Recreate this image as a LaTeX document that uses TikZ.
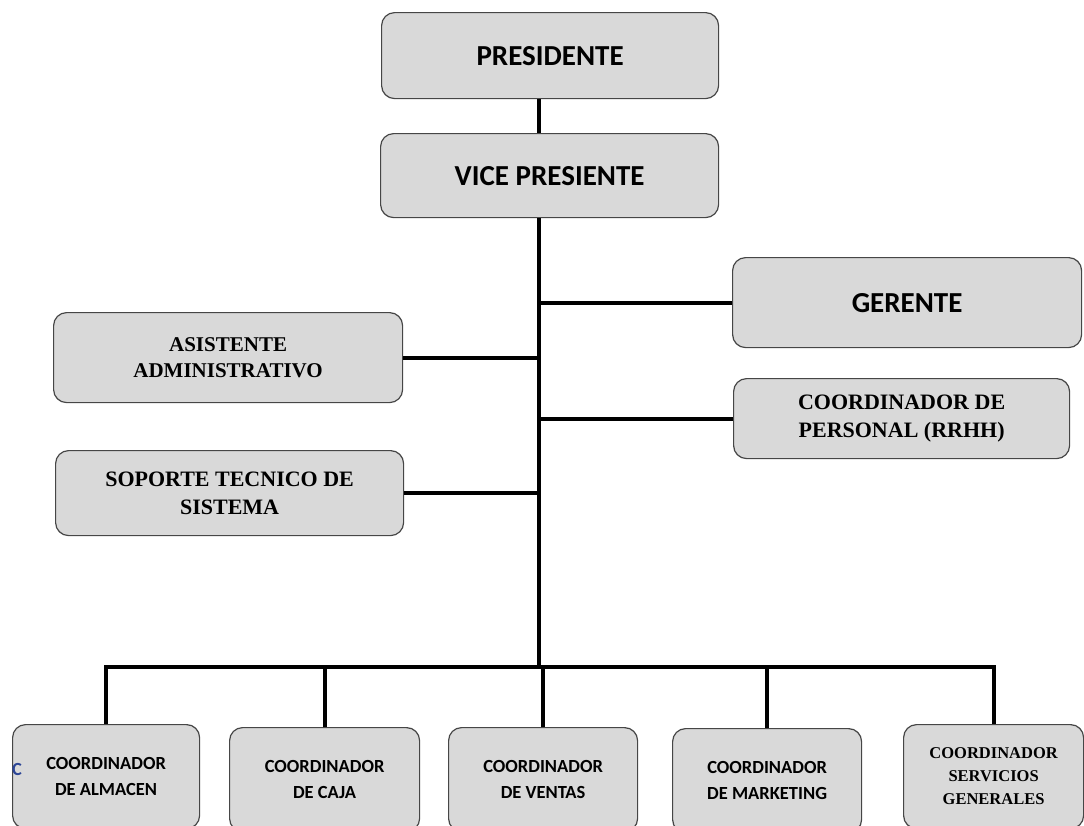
\documentclass[tikz,border=0pt]{standalone}
\usepackage{fontspec}
\setmainfont{Liberation Serif}
\newfontfamily\calibri{Carlito}
\usetikzlibrary{positioning}
\definecolor{boxgray}{RGB}{217,217,217}
\definecolor{boxedge}{RGB}{70,70,70}
\definecolor{strayblue}{RGB}{45,70,150}
\tikzset{
	org/.style={draw=boxedge, fill=boxgray, line width=1.2pt, rounded corners=13pt,
		anchor=north west, align=center, inner sep=0pt},
	headtext/.style={font=\calibri\bfseries\fontsize{29}{33}\selectfont},
	serftext/.style={font=\bfseries\fontsize{22}{28}\selectfont},
	smallserf/.style={font=\bfseries\fontsize{16.5}{23}\selectfont},
	coordtext/.style={font=\calibri\bfseries\fontsize{18.5}{26}\selectfont},
	link/.style={line width=4pt}
}

\begin{document}
\begin{tikzpicture}[x=1pt,y=-1pt]
  \clip (0,0) rectangle (1084,825);
  % direction
  \node [org, headtext, minimum width=337pt, minimum height=86pt] (pres) at (381,12) {PRESIDENTE};
  \node [org, headtext, minimum width=338pt, minimum height=84pt] (vice) at (380,133) {VICE PRESIENTE};
  % staff on both sides
  \node [org, headtext, minimum width=349pt, minimum height=90pt] (gerente) at (732,257) {GERENTE};
  \node [org, serftext, minimum width=336pt, minimum height=80pt] (rrhh) at (733,378) {COORDINADOR DE\\PERSONAL (RRHH)};
  \node [org, serftext, font=\bfseries\fontsize{21}{26}\selectfont, minimum width=349pt, minimum height=90pt] (asist) at (53,312) {ASISTENTE\\ADMINISTRATIVO};
  \node [org, serftext, minimum width=348pt, minimum height=85pt] (soporte) at (55,450) {SOPORTE TECNICO DE\\SISTEMA};
  % coordinators
  \node [org, coordtext, minimum width=187pt, minimum height=104pt] (almacen) at (12,724) {COORDINADOR\\DE ALMACEN};
  \node [org, coordtext, minimum width=190pt, minimum height=104pt] (caja) at (229,727) {COORDINADOR\\DE CAJA};
  \node [org, coordtext, minimum width=189pt, minimum height=104pt] (ventas) at (448,727) {COORDINADOR\\DE VENTAS};
  \node [org, coordtext, minimum width=189pt, minimum height=104pt] (marketing) at (672,728) {COORDINADOR\\DE MARKETING};
  \node [org, smallserf, minimum width=180pt, minimum height=104pt] (servicios) at (903,724) {COORDINADOR\\SERVICIOS\\GENERALES};
  \node [coordtext, text=strayblue, inner sep=0pt] (strayc) at (17,769) {C};
  % lines
  \coordinate (bus) at (539,667);
  \draw [link] (pres.south -| bus) -- (vice.north -| bus);
  \draw [link] (vice.south -| bus) -- (bus);
  \draw [link] (gerente.west -| bus) -- (gerente.west);
  \draw [link] (rrhh.west -| bus) -- (rrhh.west);
  \draw [link] (asist.east) -- (asist.east -| bus);
  \draw [link] (soporte.east) -- (soporte.east -| bus);
  \draw [link] (almacen.north) |- (bus) -| (servicios.north);
  \draw [link] (caja.north) -- (caja.north |- bus);
  \draw [link] (ventas.north) -- (ventas.north |- bus);
  \draw [link] (marketing.north) -- (marketing.north |- bus);
\end{tikzpicture}
\end{document}
